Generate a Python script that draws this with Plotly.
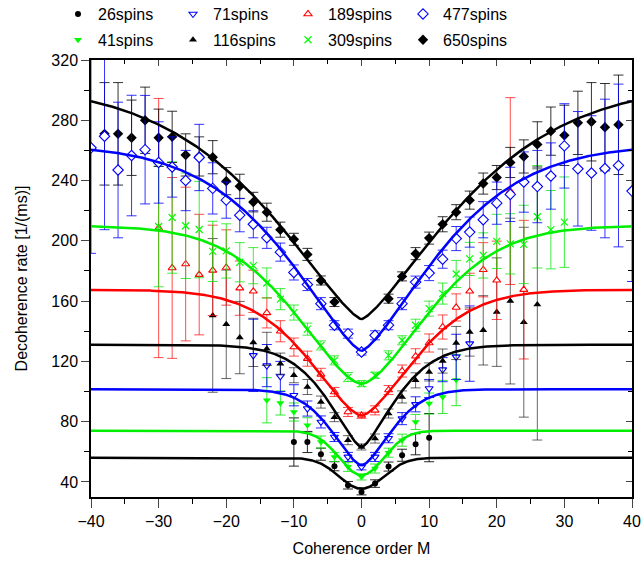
import numpy as np
import plotly.graph_objects as go

# ---------------- data ----------------
series_names = ["26spins", "41spins", "71spins", "116spins",
                "189spins", "309spins", "477spins", "650spins"]

m_26 = [-10, -8, -6, -4, -2, 0, 2, 4, 6, 8, 10]
r_26 = [66.5, 66.5, 58.4, 50.4, 37.8, 33.4, 38.9, 50.2, 57.7, 65.0, 69.4]
e_26 = [16, 7, 4, 3, 2.5, 2, 2.5, 3, 4, 7, 16]

m_41 = [-14, -12, -10, -8, -6, -4, -2, 0, 2, 4, 6, 8, 10, 12, 14]
r_41 = [94.2, 92.4, 86.4, 77.6, 66.5, 56.6, 50.0, 43.3, 48.9, 59.4, 67.7, 79.8, 92.0, 96.4, 107.6]
e_41 = [15, 8, 6, 5, 4, 3, 3, 2, 3, 3, 4, 5, 7, 11, 17]

m_71 = [-16, -14, -12, -10, -8, -6, -4, -2, 0, 2, 4, 6, 8, 10, 12, 14, 16]
r_71 = [124.0, 117.2, 110.0, 97.5, 88.7, 79.8, 69.8, 56.6, 50.0, 56.6, 69.0, 82.0, 91.5, 102.0, 114.5, 123.0, 131.8]
e_71 = [24, 14, 10, 7, 5, 4, 3, 3, 2, 3, 3, 4, 5, 6, 8, 15, 25]

m_116 = [-22, -20, -18, -16, -14, -12, -10, -8, -6, -4, -2, 0, 2, 4, 6, 8, 10, 12, 14, 16, 18, 20, 22, 24, 26]
r_116 = [150.5, 144.6, 135.8, 132.6, 128.3, 118.5, 110.8, 103.0, 93.0, 83.0, 67.7, 63.2, 68.8, 85.4, 96.4,
         107.4, 113.0, 120.2, 132.2, 139.5, 140.6, 152.7, 160.0, 146.0, 157.8]
e_116 = [51, 36, 24, 16, 11, 7, 5, 5, 4, 3, 3, 2, 3, 3, 4, 5, 6, 8, 11, 16, 23, 36, 55, 63, 90]

m_189 = [-30, -28, -26, -24, -22, -20, -18, -16, -14, -12, -10, -8, -6, -4, -2, 0, 2, 4, 6, 8,
         10, 12, 14, 16, 18, 20, 22, 24]
r_189 = [208.5, 182.0, 184.6, 177.6, 180.4, 182.3, 168.6, 166.5, 152.2, 140.0, 129.5, 121.8, 111.4, 99.7,
         86.4, 84.2, 87.5, 101.0, 113.6, 123.4, 132.2, 142.8, 155.8, 166.5, 180.8, 173.8, 233.0, 167.6]
e_189 = [86, 60, 51, 40, 30, 25, 18, 14, 10, 7, 6, 5, 4, 3, 3, 2, 3, 3, 4, 5,
         6, 8, 9, 12, 18, 26, 62, 46]

m_309 = [-30, -28, -26, -24, -22, -20, -18, -16, -14, -12, -10, -8, -6, -4, -2, 0, 2, 4, 6, 8,
         10, 12, 14, 16, 18, 20, 22, 24, 26, 28, 30]
r_309 = [209.5, 215.5, 210.0, 207.5, 193.0, 193.3, 185.8, 183.5, 172.0, 161.3, 152.4, 141.4, 130.6, 120.7,
         109.6, 105.2, 110.8, 124.0, 134.0, 144.0, 155.0, 165.0, 178.0, 188.0, 190.3, 199.6, 198.0,
         197.6, 216.0, 207.4, 212.4]
e_309 = [40, 37, 35, 32, 20, 18, 13, 12, 10, 7, 5, 4, 3, 3, 3, 2, 2, 3, 3, 4,
         5, 7, 9, 11, 15, 18, 20, 26, 34, 26, 30]

m_477 = [-40, -38, -36, -34, -32, -30, -28, -26, -24, -22, -20, -18, -16, -14, -12, -10, -8, -6, -4, -2,
         0, 2, 4, 6, 8, 10, 12, 14, 16, 18, 20, 22, 24, 26, 28, 30, 32, 34, 36, 38, 40]
r_477 = [261.7, 269.4, 247.0, 256.6, 260.5, 252.0, 249.0, 240.0, 255.3, 234.8, 227.0, 217.0, 211.0, 202.0,
         192.5, 179.0, 171.0, 158.3, 144.0, 138.4, 126.2, 137.3, 144.0, 158.3, 172.6, 178.6, 187.8,
         201.5, 205.8, 214.0, 225.0, 230.8, 239.0, 236.0, 243.0, 263.0, 247.8, 245.0, 248.0, 250.0, 233.0]
e_477 = [70, 62, 45, 40, 36, 27, 20, 20, 22, 17, 12, 11, 9, 7, 6, 5, 4, 4, 3, 3,
         2, 3, 3, 4, 4, 5, 6, 8, 10, 12, 14, 18, 20, 24, 22, 28, 38, 38, 46, 54, 60]

m_650 = [-38, -36, -34, -32, -30, -28, -26, -24, -22, -20, -18, -16, -14, -12, -10, -8, -6, -4,
         4, 6, 8, 10, 12, 14, 16, 18, 20, 22, 24, 26, 28, 30, 32, 34, 36, 38]
r_650 = [271.0, 271.0, 268.4, 280.0, 268.4, 269.0, 257.0, 256.0, 255.5, 239.6, 236.2, 225.7, 219.0, 207.4,
         201.0, 191.0, 173.7, 159.4, 161.6, 176.4, 191.5, 201.8, 211.0, 219.0, 227.0, 238.0, 242.0,
         252.0, 256.0, 264.0, 272.8, 270.0, 278.3, 279.0, 275.4, 277.0]
e_650 = [34, 34, 25, 22, 19, 17, 14, 13, 11, 9, 8, 6.5, 6, 5, 4, 4, 3, 3,
         3, 3, 4, 4, 5, 5, 6, 7, 8, 10, 11, 15, 16, 20, 21, 26, 29, 33]

# fitted-curve parameters: rate = plateau - (plateau - minimum) * exp(-(|M|/width)**power)
fit_plateau = [56.0, 74.0, 101.5, 131.0, 167.5, 210.0, 264.0, 305.0]
fit_minimum = [35.5, 44.5, 51.0, 63.0, 84.0, 105.0, 127.0, 148.0]
fit_width = [4.64, 4.7, 6.1, 7.0, 11.0, 13.7, 15.8, 20.0]
fit_power = [2.0, 2.0, 1.6, 1.45, 1.55, 1.6, 1.4, 1.35]

x_ticks = [-40, -30, -20, -10, 0, 10, 20, 30, 40]
y_ticks = [40, 80, 120, 160, 200, 240, 280, 320]

# ---------------- styling ----------------
BLACK, BLUE, RED, GREEN = "#000000", "#0000ff", "#ff0000", "#00ee00"
FONT = "Liberation Sans, Arial, Helvetica, sans-serif"

data = [
    (m_26, r_26, e_26), (m_41, r_41, e_41), (m_71, r_71, e_71), (m_116, r_116, e_116),
    (m_189, r_189, e_189), (m_309, r_309, e_309), (m_477, r_477, e_477), (m_650, r_650, e_650),
]
line_colors = [BLACK, GREEN, BLUE, BLACK, RED, GREEN, BLUE, BLACK]
err_colors = ["rgba(0,0,0,0.85)", "rgba(0,230,0,0.8)", "rgba(0,0,255,0.85)", "rgba(0,0,0,0.6)",
              "rgba(255,0,0,0.7)", "rgba(0,230,0,0.75)", "rgba(0,0,255,0.8)", "rgba(0,0,0,0.8)"]
markers = [
    dict(symbol="circle", size=6, color=BLACK),
    dict(symbol="triangle-down", size=7, color="#00ff00"),
    dict(symbol="triangle-down", size=7, color="white", line=dict(color=BLUE, width=1.1)),
    dict(symbol="triangle-up", size=7, color=BLACK),
    dict(symbol="triangle-up", size=7, color="white", line=dict(color=RED, width=1.1)),
    dict(symbol="x-thin-open", size=7, color="#00ff00", line=dict(color="#00ee00", width=1.2)),
    dict(symbol="diamond", size=8, color="white", line=dict(color=BLUE, width=1.1)),
    dict(symbol="diamond", size=8, color=BLACK),
]
legend_row = ["legend", "legend2", "legend", "legend2", "legend", "legend2", "legend", "legend2"]
legend_rank = [1, 1, 2, 2, 3, 3, 4, 4]
draw_order = [0, 1, 2, 3, 4, 5, 7, 6]

fig = go.Figure()

for i in draw_order:
    mm, rr, ee = data[i]
    fig.add_trace(go.Scatter(
        x=mm, y=rr, mode="markers", name=series_names[i],
        marker=markers[i], legend=legend_row[i], legendrank=legend_rank[i],
        error_y=dict(type="data", array=ee, visible=True, color=err_colors[i],
                     thickness=1, width=5),
    ))

m_grid = np.linspace(-40, 40, 801)
for i in range(len(series_names)):
    fit = fit_plateau[i] - (fit_plateau[i] - fit_minimum[i]) * np.exp(
        -(np.abs(m_grid) / fit_width[i]) ** fit_power[i])
    fig.add_trace(go.Scatter(x=m_grid, y=fit, mode="lines", showlegend=False,
                             line=dict(color=line_colors[i], width=2.5), hoverinfo="skip"))

# invisible trace to carry the mirrored (inside-tick) axes
fig.add_trace(go.Scatter(x=[0], y=[100], xaxis="x2", yaxis="y2", mode="markers",
                         marker=dict(opacity=0), showlegend=False, hoverinfo="skip"))

axis_font = dict(family=FONT, size=16, color="black")
legend_common = dict(orientation="h", xanchor="left", yanchor="top",
                     entrywidth=70, entrywidthmode="pixels",
                     font=dict(family=FONT, size=16), bgcolor="rgba(0,0,0,0)",
                     tracegroupgap=0, itemwidth=30)
fig.update_layout(
    width=642, height=567,
    paper_bgcolor="white", plot_bgcolor="white",
    margin=dict(l=91, r=10, t=60, b=70, autoexpand=False),
    font=dict(family=FONT, size=16, color="black"),
    showlegend=True,
    legend=dict(x=-0.061, y=1.144, **legend_common),
    legend2=dict(x=-0.061, y=1.085, **legend_common),
    xaxis=dict(range=[-40, 40], tickvals=x_ticks, ticks="outside", ticklen=9, tickwidth=1.3,
               showline=True, linecolor="black", linewidth=1.5, mirror=True,
               showgrid=False, zeroline=False, tickfont=axis_font, automargin=False,
               minor=dict(dtick=5, ticks="outside", ticklen=5, tickwidth=1.3, tickcolor="black",
                          showgrid=False),
               title=dict(text="Coherence order M", font=axis_font, standoff=14)),
    yaxis=dict(range=[30, 320], tickvals=y_ticks, ticks="outside", ticklen=8, tickwidth=1.3,
               showline=True, linecolor="black", linewidth=1.5, mirror=True,
               showgrid=False, zeroline=False, tickfont=axis_font, automargin=False,
               minor=dict(dtick=20, tick0=0, ticks="outside", ticklen=5, tickwidth=1.3,
                          tickcolor="black", showgrid=False),
               title=dict(text="Decoherence rate [1/(ms)]", font=axis_font, standoff=20)),
    xaxis2=dict(range=[-40, 40], overlaying="x", side="top", tickvals=x_ticks, ticks="inside",
                ticklen=6, tickwidth=1.3, showticklabels=False, showgrid=False, zeroline=False,
                showline=False, automargin=False,
                minor=dict(dtick=5, ticks="inside", ticklen=4, tickwidth=1.3, tickcolor="black",
                           showgrid=False)),
    yaxis2=dict(range=[30, 320], overlaying="y", side="right", tickvals=y_ticks, ticks="inside",
                ticklen=6, tickwidth=1.3, showticklabels=False, showgrid=False, zeroline=False,
                showline=False, automargin=False,
                minor=dict(dtick=20, tick0=0, ticks="inside", ticklen=4, tickwidth=1.3,
                           tickcolor="black", showgrid=False)),
)

fig.write_html("out.html", config={"displayModeBar": False},
               post_script="document.body.style.margin='0px';")
